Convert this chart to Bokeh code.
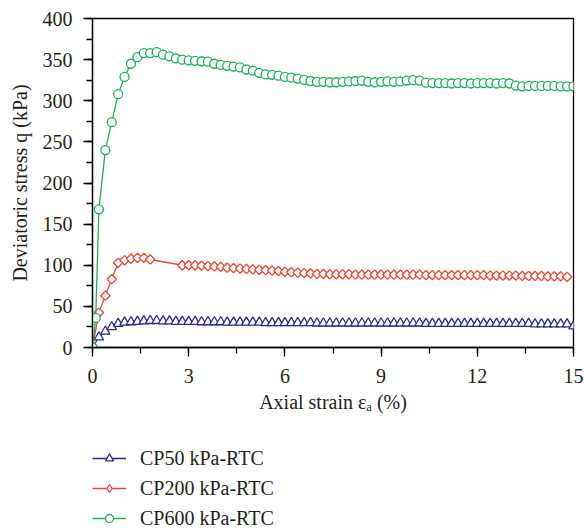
import math
from bokeh.plotting import figure
from bokeh.layouts import column
from bokeh.models import Range1d, SingleIntervalTicker, Legend, LegendItem
from bokeh.embed import file_html
from bokeh.resources import INLINE

# ---------------- data ----------------
series_names = ["CP50 kPa-RTC", "CP200 kPa-RTC", "CP600 kPa-RTC"]

strain_50 = [0.0, 0.2, 0.4, 0.6, 0.8, 1.0, 1.2, 1.4, 1.6, 1.8,
             2.0, 2.2, 2.4, 2.6, 2.8, 3.0, 3.2, 3.4, 3.6, 3.8,
             4.0, 4.2, 4.4, 4.6, 4.8, 5.0, 5.2, 5.4, 5.6, 5.8,
             6.0, 6.2, 6.4, 6.6, 6.8, 7.0, 7.2, 7.4, 7.6, 7.8,
             8.0, 8.2, 8.4, 8.6, 8.8, 9.0, 9.2, 9.4, 9.6, 9.8,
             10.0, 10.2, 10.4, 10.6, 10.8, 11.0, 11.2, 11.4, 11.6, 11.8,
             12.0, 12.2, 12.4, 12.6, 12.8, 13.0, 13.2, 13.4, 13.6, 13.8,
             14.0, 14.2, 14.4, 14.6, 14.8, 15.0]
stress_50 = [0, 12.5, 19.5, 25, 29, 30.5, 31, 31.5, 32, 32.5,
             32.5, 32, 32, 31.5, 31.5, 31.5, 31.5, 31, 31, 31,
             31, 30.5, 30.5, 30.5, 30.5, 30.5, 30.5, 30, 30, 30,
             30, 30, 30, 30, 30, 29.5, 29.5, 29.5, 29.5, 29.5,
             29.5, 29.5, 29.5, 29.5, 29.5, 29.5, 29.5, 29.5, 29.5, 29.5,
             29.5, 29.5, 29, 29, 29, 29, 29, 29, 29, 29,
             29, 29, 29, 29, 29, 29, 29, 29, 29, 28.5,
             28.5, 28.5, 28.5, 28.5, 28.5, 26]

strain_200 = [0.0, 0.2, 0.4, 0.6, 0.8, 1.0, 1.2, 1.4, 1.6, 1.8,
              2.8, 3.0, 3.2, 3.4, 3.6, 3.8,
              4.0, 4.2, 4.4, 4.6, 4.8, 5.0, 5.2, 5.4, 5.6, 5.8,
              6.0, 6.2, 6.4, 6.6, 6.8, 7.0, 7.2, 7.4, 7.6, 7.8,
              8.0, 8.2, 8.4, 8.6, 8.8, 9.0, 9.2, 9.4, 9.6, 9.8,
              10.0, 10.2, 10.4, 10.6, 10.8, 11.0, 11.2, 11.4, 11.6, 11.8,
              12.0, 12.2, 12.4, 12.6, 12.8, 13.0, 13.2, 13.4, 13.6, 13.8,
              14.0, 14.2, 14.4, 14.6, 14.8]
stress_200 = [0, 42.5, 63, 83, 103, 106, 108, 109, 109, 107,
              100, 100, 100, 99.5, 99, 98.5,
              98, 97, 96.5, 96, 95.5, 95, 94.5, 94, 93.5, 93,
              92, 91.5, 91, 90.5, 90, 89.5, 89.5, 89, 89, 89,
              89, 88.5, 88.5, 88.5, 88.5, 88.5, 88.5, 88.5, 88.5, 88.5,
              88.5, 88.5, 88, 88, 88, 88, 88, 88, 88, 88,
              88, 88, 87.5, 87.5, 87.5, 87.5, 87.5, 87, 87, 87,
              87, 86.5, 86.5, 86.5, 86]

strain_600 = [0.0, 0.1, 0.2, 0.4, 0.6, 0.8, 1.0, 1.2, 1.4, 1.6, 1.8,
              2.0, 2.2, 2.4, 2.6, 2.8, 3.0, 3.2, 3.4, 3.6, 3.8,
              4.0, 4.2, 4.4, 4.6, 4.8, 5.0, 5.2, 5.4, 5.6, 5.8,
              6.0, 6.2, 6.4, 6.6, 6.8, 7.0, 7.2, 7.4, 7.6, 7.8,
              8.0, 8.2, 8.4, 8.6, 8.8, 9.0, 9.2, 9.4, 9.6, 9.8,
              10.0, 10.2, 10.4, 10.6, 10.8, 11.0, 11.2, 11.4, 11.6, 11.8,
              12.0, 12.2, 12.4, 12.6, 12.8, 13.0, 13.2, 13.4, 13.6, 13.8,
              14.0, 14.2, 14.4, 14.6, 14.8, 15.0]
stress_600 = [0, 36, 168, 240, 274, 308, 329, 345, 353, 358, 358,
              359, 356, 354, 351.5, 350, 349, 348.5, 348, 347.5, 345,
              343.5, 342.5, 341.5, 340.5, 338, 336.5, 334, 332, 331.5, 330.5,
              329, 328, 327, 325.5, 324, 323, 323, 322.5, 322.5, 323,
              323.5, 324, 324.5, 323, 322.5, 323, 323.5, 323, 323.5, 324.5,
              325, 324.5, 322, 321.5, 321.5, 321.5, 321, 321.5, 321.5, 321,
              321.5, 321.5, 321.5, 321, 321.5, 321, 318.5, 317.5, 318, 318,
              318, 318, 318, 317.5, 317.5, 317.5]

x_major_interval = 3
y_major_interval = 50

# ---------------- styles ----------------
BLUE = "#2e2a94"
RED = "#ef4631"
GREEN = "#18b25a"
FONT = "Liberation Serif"
TXT = "#231f20"
COLORS = [BLUE, RED, GREEN]
# (marker, size, angle) for the plot and for the legend key
PLOT_MARKERS = [("triangle", 9.5, 0.0), ("square", 6.6, math.pi / 4), ("circle", 9, 0.0)]
KEY_MARKERS = [("triangle", 9.5, 0.0), ("diamond", 11, 0.0), ("circle", 9, 0.0)]

p = figure(width=584, height=420, output_backend="svg", toolbar_location=None,
           x_range=Range1d(0, 15), y_range=Range1d(0, 400),
           min_border_left=92, min_border_right=11, min_border_top=18,
           min_border_bottom=73)
p.grid.visible = False
p.outline_line_color = "black"
p.outline_line_width = 1.3
p.background_fill_color = "white"
p.border_fill_color = "white"

p.xaxis.ticker = SingleIntervalTicker(interval=x_major_interval, num_minor_ticks=2)
p.yaxis.ticker = SingleIntervalTicker(interval=y_major_interval, num_minor_ticks=2)
p.xaxis.axis_label = "Axial strain εₐ (%)"
p.yaxis.axis_label = "Deviatoric stress q (kPa)"

for ax in (p.xaxis, p.yaxis):
    ax.axis_line_width = 1.3
    ax.axis_line_color = "black"
    ax.major_tick_line_width = 1.3
    ax.minor_tick_line_width = 1.3
    ax.major_tick_in = 0
    ax.major_tick_out = 9
    ax.minor_tick_in = 0
    ax.minor_tick_out = 6
    ax.major_label_text_font = FONT
    ax.major_label_text_font_size = "20px"
    ax.major_label_text_color = TXT
    ax.axis_label_text_font = FONT
    ax.axis_label_text_font_size = "20px"
    ax.axis_label_text_font_style = "normal"
    ax.axis_label_text_color = TXT

p.xaxis.major_label_standoff = 12
p.xaxis.axis_label_standoff = 5
p.yaxis.major_label_standoff = 11
p.yaxis.axis_label_standoff = 9

# ---------------- series ----------------
series = [(strain_50, stress_50), (strain_200, stress_200), (strain_600, stress_600)]
for (xs, ys), (mk, sz, ang), col in zip(series, PLOT_MARKERS, COLORS):
    p.line(xs, ys, line_color=col, line_width=1.3)
    p.scatter(xs, ys, marker=mk, size=sz, angle=ang, line_color=col,
              line_width=1.3, fill_color="white")

# ---------------- legend (separate strip under the plot) ----------------
lf = figure(width=584, height=111, output_backend="svg", toolbar_location=None,
            x_axis_type=None, y_axis_type=None, x_range=Range1d(0, 1),
            y_range=Range1d(0, 1), min_border=0)
lf.grid.visible = False
lf.outline_line_color = None
lf.background_fill_color = "white"
lf.border_fill_color = "white"

nan = float("nan")
items = []
for name, (mk, sz, ang), col in zip(series_names, KEY_MARKERS, COLORS):
    rl = lf.line([nan, nan], [nan, nan], line_color=col, line_width=1.3)
    rs = lf.scatter([nan], [nan], marker=mk, size=sz, line_color=col,
                    line_width=1.3, fill_color="white")
    items.append(LegendItem(label=name, renderers=[rl, rs]))

legend = Legend(items=items, location=(0, 1.5), orientation="vertical",
                glyph_width=34, glyph_height=20, label_height=20, spacing=7,
                padding=0, margin=0, label_standoff=14,
                border_line_color=None, background_fill_alpha=0,
                label_text_font=FONT, label_text_font_size="20px",
                label_text_color=TXT)
lf.add_layout(legend)

layout = column(p, lf, spacing=0)
open("out.html", "w").write(file_html(layout, INLINE))
